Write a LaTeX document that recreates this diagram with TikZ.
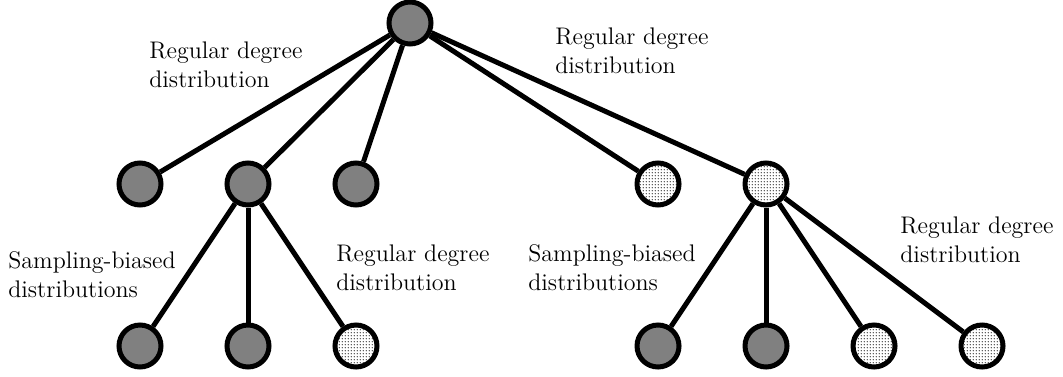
\documentclass[tikz,border=0pt]{standalone}
\usetikzlibrary{patterns.meta}

% fine dot raster for the hatched vertices
\pgfdeclarepattern{
  name=finedots,
  type=uncolored,
  bottom left={\pgfpoint{0pt}{0pt}},
  top right={\pgfpoint{1.6pt}{1.6pt}},
  tile size={\pgfpoint{1.6pt}{1.6pt}},
  code={\pgfpathcircle{\pgfpoint{0.8pt}{0.8pt}}{0.38pt}\pgfusepath{fill}}
}

\tikzset{
  vertex/.style={circle, draw=black, line width=2.5pt, minimum size=21pt, inner sep=0pt},
  full/.style={vertex, fill=black!50},
  dotted vertex/.style={vertex, preaction={fill=white}, pattern=finedots, pattern color=black!85},
  link/.style={line width=2.5pt},
  % anchored at the baseline of the second (last) line
  note/.style={anchor=base west, align=left, inner sep=0pt,
    font=\fontsize{12}{14.3}\selectfont},
}

\begin{document}
\begin{tikzpicture}[x=0.5pt, y=-0.5pt]
  \useasboundingbox (0,0) rectangle (1063,376);

  % vertices
  \node[full] (r) at (410,23) {};

  \node[full] (a1) at (140,184) {};
  \node[full] (a2) at (248,184) {};
  \node[full] (a3) at (356,184) {};
  \node[dotted vertex] (a4) at (658,184) {};
  \node[dotted vertex] (a5) at (766,184) {};

  \node[full] (b1) at (140,346) {};
  \node[full] (b2) at (248,346) {};
  \node[dotted vertex] (b3) at (356,346) {};

  \node[full] (c1) at (658,346) {};
  \node[full] (c2) at (766,346) {};
  \node[dotted vertex] (c3) at (874,346) {};
  \node[dotted vertex] (c4) at (982,346) {};

  % edges
  \foreach \n in {a1,a2,a3,a4,a5} \draw[link] (r) -- (\n);
  \foreach \n in {b1,b2,b3} \draw[link] (a2) -- (\n);
  \foreach \n in {c1,c2,c3,c4} \draw[link] (a5) -- (\n);

  % edge annotations
  \node[note] (t1) at (149,87) {Regular degree\\distribution};
  \node[note] (t2) at (555,73) {Regular degree\\distribution};
  \node[note] (t3) at (8,297) {Sampling-biased\\distributions};
  \node[note] (t4) at (336,290) {Regular degree\\distribution};
  \node[note] (t5) at (528,290) {Sampling-biased\\distributions};
  \node[note] (t6) at (900,262) {Regular degree\\distribution};
\end{tikzpicture}
\end{document}
